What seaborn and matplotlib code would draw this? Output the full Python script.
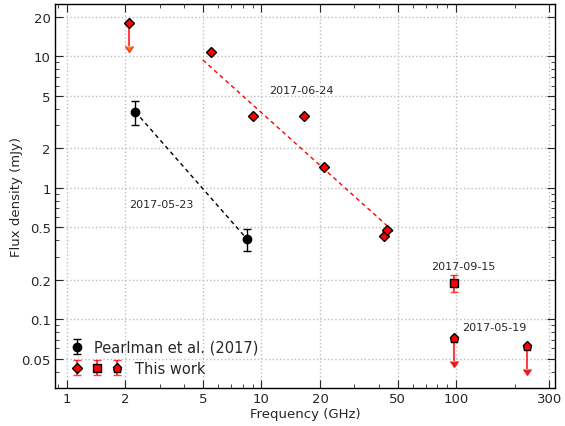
import matplotlib
matplotlib.use('Agg')
import matplotlib.pyplot as plt
import seaborn as sns
from matplotlib.legend_handler import HandlerTuple
from matplotlib.ticker import FixedLocator, FixedFormatter, NullFormatter, LogLocator

# Pearlman et al. (2017)
pearl_freq = [2.25, 8.4]
pearl_flux = [3.8, 0.41]
pearl_err = [0.8, 0.08]

# This work: 2017-06-24 detections (diamonds)
dia_freq = [5.5, 9.0, 16.5, 21.0, 42.7, 44.3]
dia_flux = [10.8, 3.5, 3.5, 1.43, 0.43, 0.48]
# diamond upper limit
dia_ul_freq = [2.1]
dia_ul_flux = [18.0]

# 2017-09-15 (square)
sq_freq = [97.5]
sq_flux = [0.19]
sq_err = [0.028]

# 2017-05-19 upper limits (pentagons)
pent_freq = [97.5, 231]
pent_flux = [0.072, 0.063]

# dashed power-law lines
fit_black_x = [2.25, 8.4]
fit_black_y = [3.8, 0.41]
fit_red_x = [5.0, 48.0]
fit_red_y = [9.4, 0.46]

x_ticks = [1, 2, 5, 10, 20, 50, 100, 300]
y_ticks = [0.05, 0.1, 0.2, 0.5, 1, 2, 5, 10, 20]
y_labels = ['0.05', '0.1', '0.2', '0.5', '1', '2', '5', '10', '20']

sns.set_style('white')
plt.rcParams.update({
    'font.family': ['DejaVu Sans'],
    'xtick.direction': 'in', 'ytick.direction': 'in',
    'xtick.top': True, 'ytick.right': True,
    'xtick.bottom': True, 'ytick.left': True,
    'axes.edgecolor': 'black', 'axes.linewidth': 1.0,
})

fig = plt.figure(figsize=(5.65, 4.27), dpi=100)
ax = fig.add_axes([0.097, 0.089, 0.885, 0.899])

sns.lineplot(x=fit_black_x, y=fit_black_y, ax=ax, color='black', lw=1).lines[-1].set_dashes((3, 2.5))
sns.lineplot(x=fit_red_x, y=fit_red_y, ax=ax, color='red', lw=1).lines[-1].set_dashes((3, 2.5))

ecol = (1, 0, 0, 0.75)
h_pearl = ax.errorbar(pearl_freq, pearl_flux, yerr=pearl_err, fmt='o', color='black',
                      ms=6, capsize=3, elinewidth=1)
h_dia = ax.errorbar(dia_freq, dia_flux, yerr=[0.0] * len(dia_flux), fmt='D', mfc='red', mec='black',
                    ecolor=ecol, ms=5.5, capsize=3)
ax.errorbar(dia_ul_freq, dia_ul_flux, yerr=[f / 3 for f in dia_ul_flux], uplims=True, fmt='D',
            mfc='red', mec='black', ecolor=ecol, ms=5.5, capsize=3)
h_sq = ax.errorbar(sq_freq, sq_flux, yerr=sq_err, fmt='s', mfc='red', mec='black',
                   ecolor=ecol, ms=6, capsize=3)
h_pent = ax.errorbar(pent_freq, pent_flux, yerr=[f / 3 for f in pent_flux], uplims=True, fmt='p',
                     mfc='red', mec='black', ecolor=ecol, ms=6.5, capsize=3)

ax.text(11.0, 5.6, '2017-06-24', fontsize=8, va='center')
ax.text(2.1, 0.75, '2017-05-23', fontsize=8, va='center')
ax.text(74.5, 0.255, '2017-09-15', fontsize=8, va='center')
ax.text(107, 0.087, '2017-05-19', fontsize=8, va='center')

ax.set_xscale('log')
ax.set_yscale('log')
ax.set_xlim(0.87, 320)
ax.set_ylim(0.03, 25)
ax.xaxis.set_major_locator(FixedLocator(x_ticks))
ax.xaxis.set_major_formatter(FixedFormatter([str(t) for t in x_ticks]))
ax.yaxis.set_major_locator(FixedLocator(y_ticks))
ax.yaxis.set_major_formatter(FixedFormatter(y_labels))
ax.xaxis.set_minor_locator(LogLocator(subs=range(1, 10)))
ax.yaxis.set_minor_locator(LogLocator(subs=range(1, 10)))
ax.xaxis.set_minor_formatter(NullFormatter())
ax.yaxis.set_minor_formatter(NullFormatter())
ax.tick_params(which='major', length=6, labelsize=9.5, pad=3)
ax.tick_params(which='minor', length=3)
ax.grid(True, which='major', linestyle=':', color='0.75', lw=1)

ax.set_xlabel('Frequency (GHz)', fontsize=9.5, labelpad=1)
ax.set_ylabel('Flux density (mJy)', fontsize=9.5, labelpad=-1)

# two stacked legends so the labels start at different offsets, as in the original
leg1 = ax.legend([h_pearl], ['Pearlman et al. (2017)'], loc='lower left',
                 bbox_to_anchor=(0.01, 0.06), frameon=False, fontsize=10.5,
                 handlelength=0.96, handletextpad=0.68, borderaxespad=0.3)
ax.add_artist(leg1)
ax.legend([(h_dia, h_sq, h_pent)], ['This work'],
          handler_map={tuple: HandlerTuple(ndivide=None, pad=0.41)},
          loc='lower left', bbox_to_anchor=(0.01, 0.005), frameon=False, fontsize=10.5,
          handlelength=3.7, handletextpad=0.75, borderaxespad=0.3)

fig.savefig('out.png', dpi=100)
